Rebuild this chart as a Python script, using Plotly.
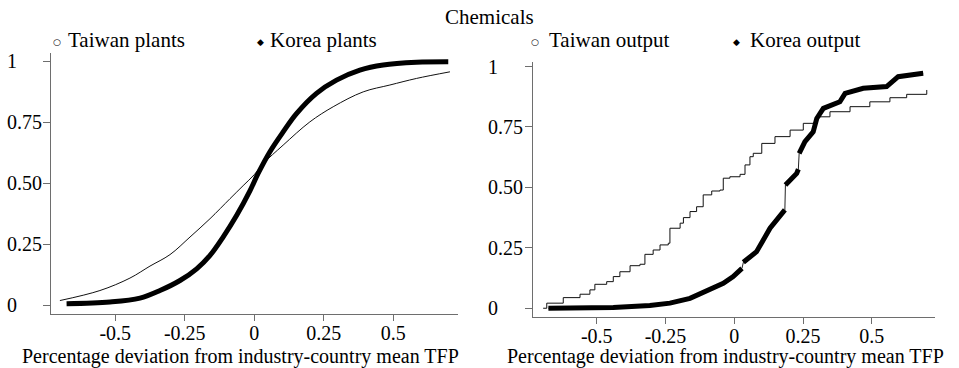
import plotly.graph_objects as go

# ---------------- data ----------------
tw_plants_x = [-0.699, -0.555, -0.447, -0.375, -0.303, -0.231, -0.159, -0.087, -0.040, 0.0, 0.032,
               0.104, 0.200, 0.284, 0.392, 0.488, 0.584, 0.704]
tw_plants_y = [0.020, 0.061, 0.112, 0.161, 0.208, 0.280, 0.355, 0.437, 0.490, 0.535, 0.580,
               0.656, 0.751, 0.813, 0.874, 0.902, 0.929, 0.956]

kr_plants_x = [-0.675, -0.519, -0.411, -0.339, -0.267, -0.207, -0.159, -0.112, -0.063, -0.015, 0.014,
               0.056, 0.104, 0.152, 0.224, 0.296, 0.380, 0.464, 0.584, 0.698]
kr_plants_y = [0.007, 0.014, 0.030, 0.061, 0.102, 0.150, 0.205, 0.280, 0.369, 0.470, 0.540,
               0.628, 0.710, 0.785, 0.868, 0.922, 0.963, 0.984, 0.995, 0.997]

tw_output_x = [-0.695, -0.682, -0.622, -0.561, -0.525, -0.507, -0.464, -0.440, -0.416, -0.379,
               -0.343, -0.325, -0.295, -0.270, -0.240, -0.234, -0.197, -0.185, -0.161, -0.137,
               -0.113, -0.082, -0.052, -0.040, -0.016, 0.021, 0.039, 0.057, 0.069, 0.100,
               0.148, 0.203, 0.251, 0.300, 0.348, 0.421, 0.493, 0.566, 0.627, 0.700]
tw_output_y = [0.000, 0.021, 0.044, 0.058, 0.076, 0.099, 0.110, 0.131, 0.151, 0.176,
               0.182, 0.223, 0.241, 0.262, 0.269, 0.331, 0.352, 0.375, 0.400, 0.420,
               0.469, 0.485, 0.489, 0.538, 0.544, 0.554, 0.593, 0.627, 0.641, 0.682,
               0.710, 0.737, 0.765, 0.792, 0.813, 0.834, 0.854, 0.871, 0.885, 0.903]

# Korea output: continuous segments separated by jumps
kr_output_segments_x = [
    [-0.676, -0.55, -0.44, -0.307, -0.234, -0.161, -0.088, -0.040, -0.004, 0.021, 0.028],
    [0.033, 0.081, 0.130, 0.166, 0.184],
    [0.186, 0.205, 0.227, 0.233],
    [0.236, 0.257, 0.287, 0.300, 0.324, 0.384, 0.403, 0.469, 0.554, 0.578, 0.596, 0.687],
]
kr_output_segments_y = [
    [0.000, 0.001, 0.003, 0.011, 0.021, 0.041, 0.076, 0.103, 0.131, 0.158, 0.165],
    [0.190, 0.234, 0.331, 0.386, 0.407],
    [0.510, 0.535, 0.558, 0.575],
    [0.641, 0.689, 0.730, 0.785, 0.827, 0.854, 0.889, 0.910, 0.917, 0.937, 0.958, 0.972],
]

x_tickvals = [-0.5, -0.25, 0, 0.25, 0.5]
x_ticktext = ["-0.5", "-0.25", "0", "0.25", "0.5"]
y_tickvals = [0, 0.25, 0.5, 0.75, 1]
y_ticktext = ["0", "0.25", "0.50", "0.75", "1"]

title_text = "Chemicals"
x_title = "Percentage deviation from industry-country mean TFP"
legend_left = ["Taiwan plants", "Korea plants"]
legend_right = ["Taiwan output", "Korea output"]

# ---------------- figure ----------------
W, H = 959, 368
FONT = "Liberation Serif"
AXC = "#6e6e6e"

fig = go.Figure()

fig.add_trace(go.Scatter(x=tw_plants_x, y=tw_plants_y, mode="lines",
                         line=dict(color="#111", width=1, shape="spline"), xaxis="x", yaxis="y"))
fig.add_trace(go.Scatter(x=kr_plants_x, y=kr_plants_y, mode="lines",
                         line=dict(color="black", width=5, shape="spline"), xaxis="x", yaxis="y"))

fig.add_trace(go.Scatter(x=tw_output_x, y=tw_output_y, mode="lines",
                         line=dict(color="#111", width=1, shape="hv"), xaxis="x2", yaxis="y2"))

thin_x, thin_y, thick_x, thick_y = [], [], [], []
for sx, sy in zip(kr_output_segments_x, kr_output_segments_y):
    thin_x += sx
    thin_y += sy
    thick_x += sx + [None]
    thick_y += sy + [None]
fig.add_trace(go.Scatter(x=thin_x, y=thin_y, mode="lines",
                         line=dict(color="#222", width=1), xaxis="x2", yaxis="y2"))
fig.add_trace(go.Scatter(x=thick_x, y=thick_y, mode="lines",
                         line=dict(color="black", width=5), xaxis="x2", yaxis="y2"))


def px(x):
    return x / W


def py(y):
    return 1 - y / H


xaxis_common = dict(showgrid=False, zeroline=False, showline=True, linecolor=AXC, linewidth=1,
                    ticks="outside", ticklen=6, tickcolor=AXC, tickwidth=1,
                    tickvals=x_tickvals, ticktext=x_ticktext, ticklabelstandoff=-5,
                    tickfont=dict(family=FONT, size=20, color="black"))
yaxis_common = dict(showgrid=False, zeroline=False, showline=True, linecolor=AXC, linewidth=1,
                    ticks="outside", ticklen=7, tickcolor=AXC, tickwidth=1,
                    tickvals=y_tickvals, showticklabels=False)

fig.update_layout(
    width=W, height=H, margin=dict(l=0, r=0, t=0, b=0),
    paper_bgcolor="white", plot_bgcolor="white", showlegend=False,
    font=dict(family=FONT),
    xaxis=dict(domain=[px(51), px(458)], range=[-0.731, 0.733], anchor="y", **xaxis_common),
    yaxis=dict(domain=[py(314), py(53)], range=[-0.035, 1.033], anchor="x", **yaxis_common),
    xaxis2=dict(domain=[px(533), px(935)], range=[-0.732, 0.730], anchor="y2", **xaxis_common),
    yaxis2=dict(domain=[py(316.7), py(61.7)], range=[-0.035, 1.02], anchor="x2", **yaxis_common),
)

ann = []
# y tick labels, left aligned
for v, t in zip(y_tickvals, y_ticktext):
    ann.append(dict(x=px(4.5), xref="paper", y=v, yref="y", text=t, showarrow=False,
                    xanchor="left", yanchor="middle", font=dict(family=FONT, size=20, color="black")))
    ann.append(dict(x=px(486), xref="paper", y=v, yref="y2", text=t, showarrow=False,
                    xanchor="left", yanchor="middle", font=dict(family=FONT, size=20, color="black")))

# title
ann.append(dict(x=px(489), y=py(16.5), xref="paper", yref="paper", text=title_text, showarrow=False,
                xanchor="center", yanchor="middle", font=dict(family=FONT, size=21, color="black")))
# x titles
for cx in (240.5, 725):
    ann.append(dict(x=px(cx), y=py(356), xref="paper", yref="paper", text=x_title, showarrow=False,
                    xanchor="center", yanchor="middle", font=dict(family=FONT, size=20, color="black")))

# legends
leg_items = [
    (56.7, 65.7, "○", legend_left[0]),
    (260, 268.3, "◆", legend_left[1]),
    (535, 546.7, "○", legend_right[0]),
    (736.7, 748.3, "◆", legend_right[1]),
]
for sxp, txp, sym, lab in leg_items:
    ann.append(dict(x=px(sxp), y=py(42.5), xref="paper", yref="paper", text=sym, showarrow=False,
                    xanchor="center", yanchor="middle",
                    font=dict(family="DejaVu Sans", size=9, color="black")))
    ann.append(dict(x=px(txp), y=py(40.5), xref="paper", yref="paper", text=lab, showarrow=False,
                    xanchor="left", yanchor="middle", font=dict(family=FONT, size=21, color="black")))

fig.update_layout(annotations=ann)

fig.write_html("out.html")
